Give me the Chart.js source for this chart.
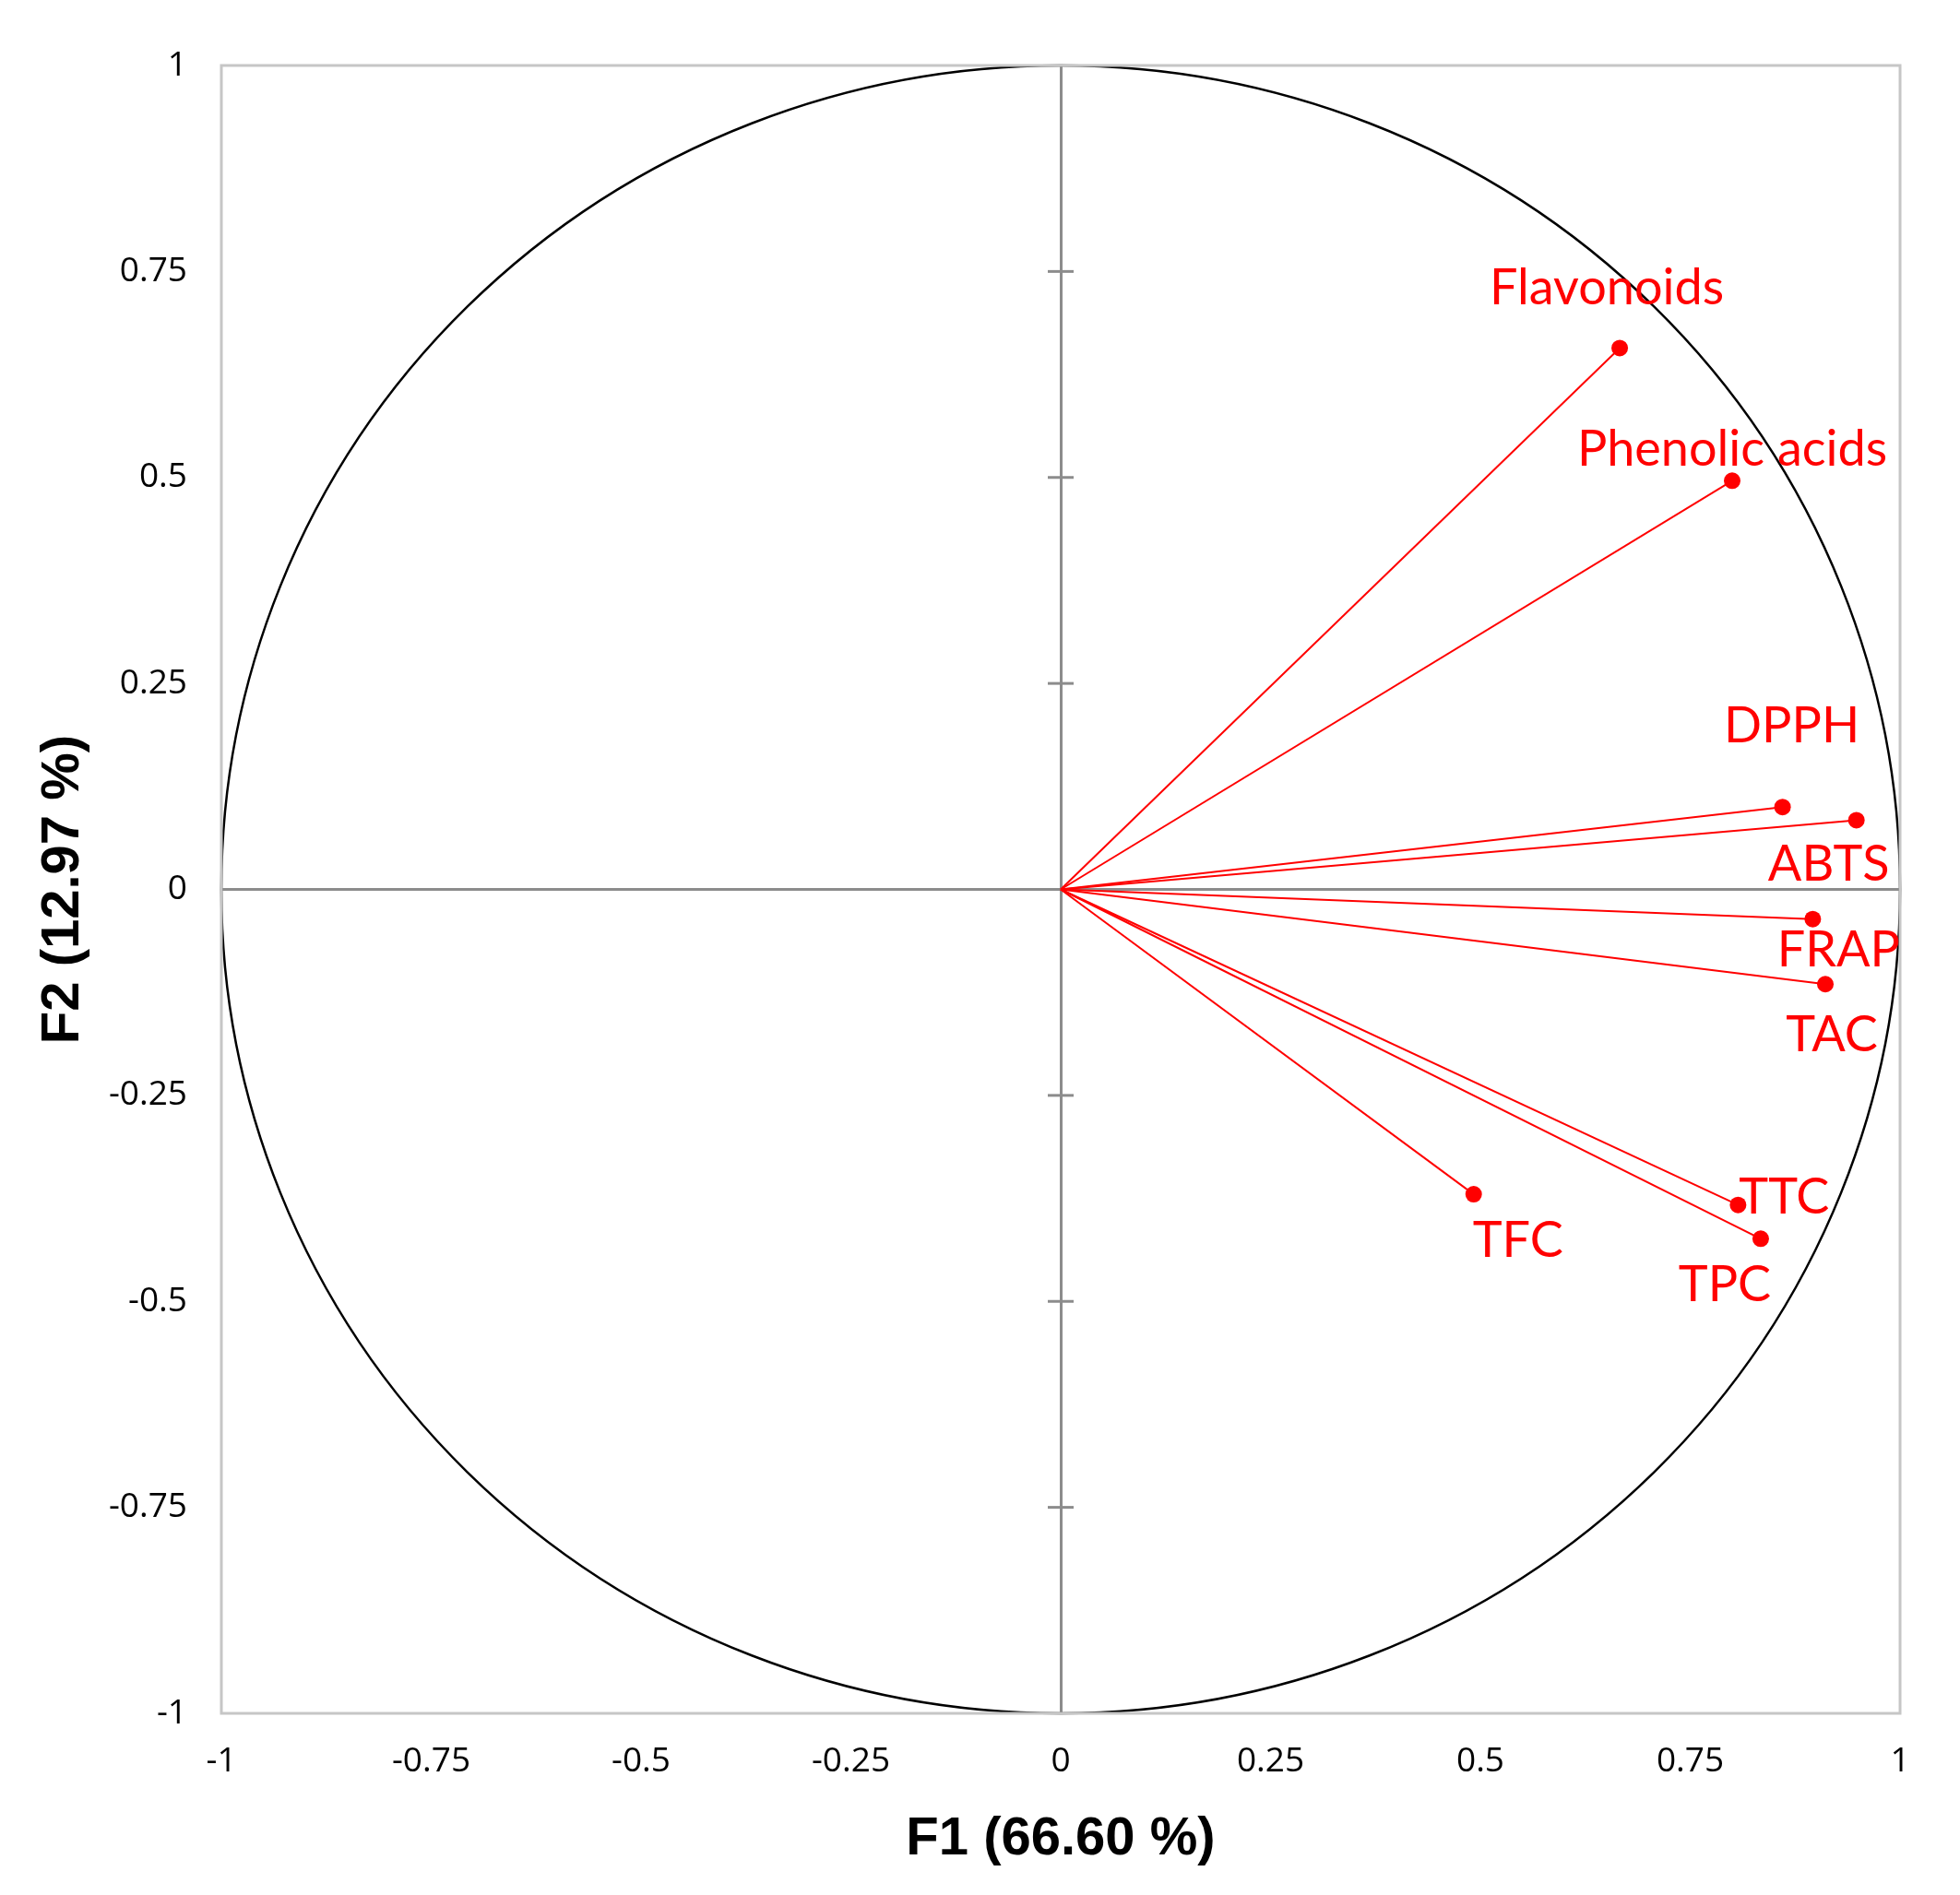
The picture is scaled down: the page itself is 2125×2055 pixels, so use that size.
<!DOCTYPE html>
<html>
<head>
<meta charset="utf-8">
<script src="https://cdn.jsdelivr.net/npm/chart.js@4"></script>
<style>
  html, body { margin: 0; padding: 0; background: #fff; }
  #wrap { width: 2125px; height: 2055px; }
</style>
</head>
<body>
<div id="wrap"><canvas id="circleChart" width="2125" height="2055"></canvas></div>
<script>
// variables on the correlation circle (F1 / F2 loadings)
const variables = ['Flavonoids', 'Phenolic acids', 'DPPH', 'ABTS', 'FRAP', 'TAC', 'TFC', 'TTC', 'TPC'];
const f1Loadings = [0.666, 0.800, 0.860, 0.948, 0.896, 0.911, 0.492, 0.807, 0.834];
const f2Loadings = [0.657, 0.496, 0.100, 0.084, -0.036, -0.115, -0.370, -0.383, -0.424];

const tickValues = [-1, -0.75, -0.5, -0.25, 0, 0.25, 0.5, 0.75, 1];
const xTitle = 'F1 (66.60 %)';
const yTitle = 'F2 (12.97 %)';

// where each label sits relative to its point (px: centre x, baseline y)
const labelOffsets = {
  'Flavonoids': [-14, -47],
  'Phenolic acids': [0, -16],
  'DPPH': [10, -70],
  'ABTS': [-30, 66],
  'FRAP': [28, 51],
  'TAC': [7, 73],
  'TFC': [48, 68],
  'TTC': [50, 9],
  'TPC': [-39, 68]
};

const RED = '#ff0000';
const labelFont = '54px Lato, "Open Sans", sans-serif';

const circlePlugin = {
  id: 'circle',
  beforeDatasetsDraw(chart) {
    const {ctx, chartArea, scales: {x, y}} = chart;
    ctx.save();
    // small tick marks along the vertical zero line
    ctx.strokeStyle = '#8c8c8c';
    ctx.lineWidth = 3;
    const x0 = x.getPixelForValue(0);
    tickValues.forEach(v => {
      if (v === 0 || Math.abs(v) === 1) return;
      const py = y.getPixelForValue(v);
      ctx.beginPath();
      ctx.moveTo(x0 - 14, py);
      ctx.lineTo(x0 + 14, py);
      ctx.stroke();
    });
    // unit circle
    const cx = x.getPixelForValue(0), cy = y.getPixelForValue(0);
    const rx = x.getPixelForValue(1) - cx, ry = cy - y.getPixelForValue(1);
    ctx.strokeStyle = '#000';
    ctx.lineWidth = 2.5;
    ctx.beginPath();
    ctx.ellipse(cx, cy, rx, ry, 0, 0, Math.PI * 2);
    ctx.stroke();
    // plot frame
    ctx.strokeStyle = '#c6c6c6';
    ctx.lineWidth = 3;
    ctx.strokeRect(chartArea.left, chartArea.top, chartArea.right - chartArea.left, chartArea.bottom - chartArea.top);
    ctx.restore();
  },
  afterDatasetsDraw(chart) {
    const {ctx, scales: {x, y}} = chart;
    ctx.save();
    ctx.fillStyle = RED;
    ctx.font = labelFont;
    ctx.textAlign = 'center';
    ctx.textBaseline = 'alphabetic';
    variables.forEach((name, i) => {
      const off = labelOffsets[name] || [0, -20];
      const px = x.getPixelForValue(f1Loadings[i]);
      const py = y.getPixelForValue(f2Loadings[i]);
      ctx.fillText(name, px + off[0], py + off[1]);
    });
    ctx.restore();
  }
};

const datasets = variables.map((name, i) => ({
  label: name,
  data: [{x: 0, y: 0}, {x: f1Loadings[i], y: f2Loadings[i]}],
  showLine: true,
  borderColor: RED,
  backgroundColor: RED,
  borderWidth: 2,
  pointRadius: [0, 9],
  pointBorderWidth: 0,
  pointBackgroundColor: RED
}));

const zeroGrid = ctx => (ctx.tick && ctx.tick.value === 0) ? '#8c8c8c' : 'rgba(0,0,0,0)';

new Chart(document.getElementById('circleChart').getContext('2d'), {
  type: 'scatter',
  data: { datasets: datasets },
  options: {
    responsive: false,
    devicePixelRatio: 1,
    animation: false,
    layout: { padding: { top: 71, right: 65, left: 0, bottom: 0 } },
    plugins: {
      legend: { display: false },
      tooltip: { enabled: false }
    },
    scales: {
      x: {
        type: 'linear',
        min: -1,
        max: 1,
        afterBuildTicks: scale => { scale.ticks = tickValues.map(v => ({value: v})); },
        afterFit: scale => { scale.height = 197; },
        grid: { color: zeroGrid, lineWidth: 3, drawTicks: false },
        border: { display: false },
        ticks: {
          padding: 30,
          color: '#000',
          font: { family: '"Open Sans"', size: 37 },
          callback: v => String(v)
        },
        title: {
          display: true,
          text: xTitle,
          color: '#000',
          font: { family: '"Liberation Sans", Arial', size: 58, weight: 'bold' },
          padding: { top: 0, bottom: 25 }
        }
      },
      y: {
        type: 'linear',
        min: -1,
        max: 1,
        afterBuildTicks: scale => { scale.ticks = tickValues.map(v => ({value: v})); },
        afterFit: scale => { scale.width = 240; },
        grid: { color: zeroGrid, lineWidth: 3, drawTicks: false },
        border: { display: false },
        ticks: {
          padding: 37,
          color: '#000',
          font: { family: '"Open Sans"', size: 37 },
          callback: v => String(v)
        },
        title: {
          display: true,
          text: yTitle,
          color: '#000',
          font: { family: '"Liberation Sans", Arial', size: 58, weight: 'bold' },
          padding: { top: 34, bottom: 0 }
        }
      }
    }
  },
  plugins: [circlePlugin]
});
</script>
</body>
</html>
